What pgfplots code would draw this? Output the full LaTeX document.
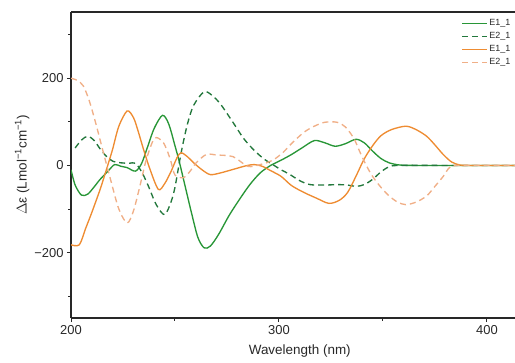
\documentclass[border=0pt]{standalone}
\usepackage{fontspec}
\setmainfont{Liberation Sans}
\usepackage{pgfplots}
\pgfplotsset{compat=1.18}
\definecolor{cgreen}{RGB}{40,150,55}
\definecolor{cgreend}{RGB}{35,120,60}
\definecolor{corange}{RGB}{238,140,50}
\definecolor{corangel}{RGB}{240,175,135}
\definecolor{axc}{RGB}{40,40,40}
\begin{document}
\begin{tikzpicture}
\begin{axis}[
  at={(0,0)}, anchor=south west,
  scale only axis, width=444bp, height=306bp,
  xmin=200, xmax=413.5, ymin=-350, ymax=352,
  separate axis lines,
  axis x line*=box, axis y line*=left,
  axis line style={axc, line width=1.1pt},
  xtick={200,300,400}, minor xtick={250,350},
  ytick={-200,0,200}, minor ytick={-300,-100,100,300},
  yticklabels={−200,0,200},
  tick align=outside, major tick length=4bp, minor tick length=2.5bp,
  every tick/.style={axc, line width=1pt},
  xtick pos=bottom, ytick pos=left,
  /pgf/number format/assume math mode=true,
  tick label style={font=\fontsize{13}{15}\selectfont, text=axc},
  xlabel={Wavelength (nm)},
  ylabel={$\Delta$ε (Lmol\textsuperscript{−1}cm\textsuperscript{−1})},
  label style={font=\fontsize{13.5}{15}\selectfont, text=axc},
  xlabel style={at={(axis cs:310,-350)}, anchor=north, yshift=-23bp},
  ylabel style={yshift=-2bp},
  legend style={at={(axis description cs:1,1)}, anchor=north east, xshift=0bp, yshift=-4bp,
    draw=none, fill=none, font=\fontsize{9}{9}\selectfont, text=axc,
    row sep=2.2bp, nodes={inner sep=1.5bp}},
  legend cell align=left,
  legend image code/.code={\draw[#1] (0bp,0bp) -- (25bp,0bp);},
  every axis plot/.append style={line width=1.35pt, smooth, tension=0.5},
  clip=true,
]
\addplot[cgreen] coordinates {(200,-10)(202,-45)(205,-68)(208,-66)(211,-50)(214,-32)(218,-12)(221,2)(224,-2)(227,-5)(231,-13)(234,5)(237,45)(240,85)(244,115)(247,95)(250,45)(252,10)(255,-50)(258,-110)(261,-165)(264,-189)(267,-185)(271,-158)(276,-115)(281,-78)(286,-44)(291,-17)(296,0)(301,12)(306,25)(311,40)(317,57)(322,52)(327,44)(332,50)(337,60)(341,52)(345,33)(349,16)(353,6)(358,1)(365,0)(380,0)(414,0)};
\addlegendentry{E1\_1}
\addplot[cgreend, dash pattern=on 6bp off 4bp] coordinates {(202,40)(205,58)(208,67)(211,58)(214,38)(217,21)(220,10)(224,6)(228,5)(231,5)(234,-15)(237,-45)(241,-90)(245,-113)(248,-85)(250,-50)(253,30)(256,95)(259,138)(264,169)(268,160)(272,140)(278,98)(283,62)(288,35)(293,14)(297,2)(301,-10)(305,-20)(310,-35)(315,-44)(322,-45)(328,-44)(333,-45)(337,-48)(341,-44)(345,-32)(349,-15)(353,-3)(358,0)(380,0)(414,0)};
\addlegendentry{E2\_1}
\addplot[corange] coordinates {(200,-182)(204,-182)(207,-145)(210,-108)(214,-55)(217,-10)(220,37)(223,90)(227,125)(230,110)(232,83)(235,35)(238,-9)(242,-55)(245,-42)(248,-15)(251,18)(253,29)(256,20)(259,6)(263,-10)(267,-21)(272,-17)(278,-9)(284,-1)(288,2)(292,-2)(296,-12)(301,-25)(306,-46)(312,-62)(318,-75)(324,-87)(329,-80)(333,-62)(337,-25)(341,15)(345,45)(349,68)(354,82)(361,90)(366,82)(371,67)(375,47)(379,25)(383,8)(387,1)(392,0)(414,0)};
\addlegendentry{E1\_1}
\addplot[corangel, dash pattern=on 6bp off 4bp] coordinates {(200,200)(203,195)(206,182)(209,145)(212,95)(215,40)(219,-32)(223,-100)(227,-132)(230,-105)(233,-50)(236,10)(239,52)(241,64)(244,55)(246,37)(248,10)(250,-22)(254,-28)(257,-15)(260,5)(265,25)(270,24)(278,20)(285,-2)(291,2)(297,12)(302,30)(306,50)(312,76)(317,90)(322,99)(328,99)(332,88)(336,62)(339,30)(342,0)(345,-25)(349,-50)(353,-70)(357,-84)(361,-90)(366,-84)(371,-70)(375,-48)(379,-25)(382,-5)(386,0)(414,0)};
\addlegendentry{E2\_1}
\end{axis}
\pgfresetboundingbox
\useasboundingbox (-71bp,-45bp) rectangle (444bp,318bp);
\end{tikzpicture}
\end{document}
